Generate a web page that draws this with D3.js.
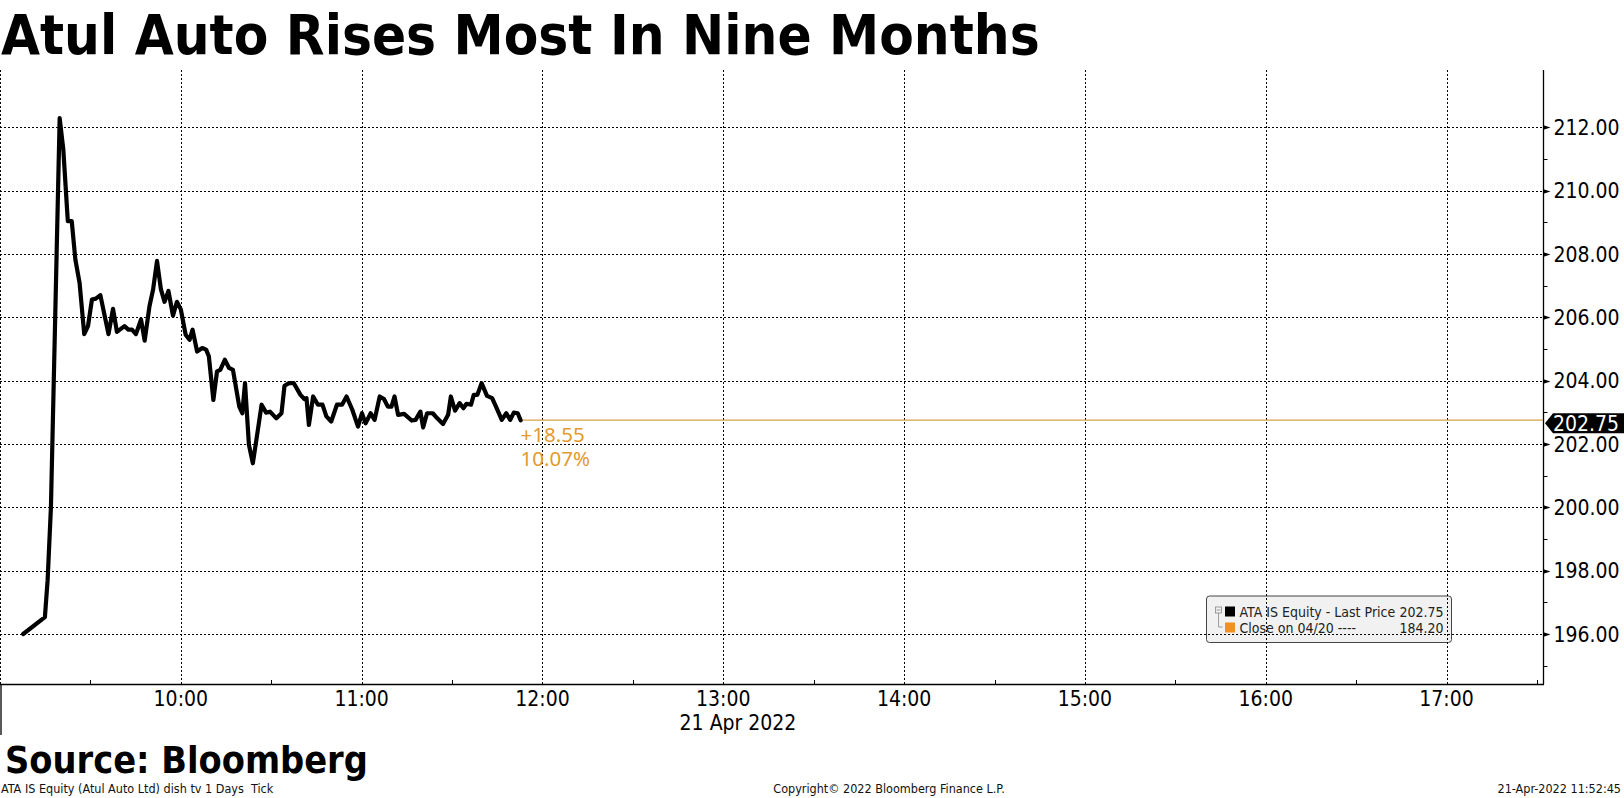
<!DOCTYPE html>
<html>
<head>
<meta charset="utf-8">
<script src="https://cdn.jsdelivr.net/npm/d3@7"></script>
<style>
  body { margin: 0; background: #fff; }
  svg { display: block; }
  .cond { font-family: "DejaVu Sans Condensed", "DejaVu Sans", sans-serif; font-stretch: condensed; }
</style>
</head>
<body>
<div id="chart"></div>
<script>
var title = "Atul Auto Rises Most In Nine Months";
var source = "Source: Bloomberg";
var footLeft = "ATA IS Equity (Atul Auto Ltd) dish tv 1 Days \u00a0Tick";
var footMid = "Copyright\u00a9 2022 Bloomberg Finance L.P.";
var footRight = "21-Apr-2022 11:52:45";
var dateLabel = "21 Apr 2022";

var times = ["09:07:42", "09:14:54", "09:15:48", "09:16:54", "09:19:48", "09:21:00", "09:22:30", "09:23:48",
  "09:25:00", "09:26:24", "09:27:57", "09:29:12", "09:30:30", "09:31:48", "09:33:18", "09:36:00",
  "09:37:30", "09:38:48", "09:41:18", "09:42:36", "09:43:48", "09:45:06", "09:46:48", "09:48:00",
  "09:49:36", "09:50:48", "09:52:06", "09:53:24", "09:54:36", "09:55:54", "09:57:24", "09:58:42",
  "10:00:00", "10:01:36", "10:02:54", "10:03:54", "10:05:24", "10:07:06", "10:08:24", "10:09:18",
  "10:10:48", "10:12:00", "10:13:06", "10:14:36", "10:16:00", "10:17:18", "10:19:24", "10:20:24",
  "10:21:18", "10:22:36", "10:23:54", "10:25:24", "10:26:48", "10:28:18", "10:29:36", "10:31:42",
  "10:33:24", "10:34:24", "10:35:54", "10:37:30", "10:39:42", "10:41:00", "10:41:42", "10:42:30",
  "10:43:54", "10:45:30", "10:47:00", "10:48:18", "10:49:54", "10:51:48", "10:53:30", "10:55:00",
  "10:56:54", "10:58:48", "11:00:06", "11:01:18", "11:03:00", "11:04:18", "11:06:00", "11:07:24",
  "11:08:42", "11:09:54", "11:10:54", "11:12:06", "11:14:06", "11:16:36", "11:17:54", "11:19:30",
  "11:20:24", "11:21:42", "11:23:36", "11:25:06", "11:27:00", "11:28:42", "11:29:36", "11:31:00",
  "11:32:30", "11:33:48", "11:34:48", "11:36:18", "11:37:12", "11:38:24", "11:39:48", "11:41:36",
  "11:43:18", "11:44:48", "11:46:30", "11:48:00", "11:49:18", "11:50:30", "11:51:48", "11:52:45"];

var prices = [196.00, 196.53, 197.70, 200.00, 212.29, 211.31, 209.04, 209.04,
  207.83, 207.09, 205.47, 205.72, 206.56, 206.59, 206.70, 205.47,
  206.27, 205.54, 205.72, 205.61, 205.61, 205.47, 205.93, 205.26,
  206.35, 206.88, 207.78, 206.88, 206.49, 206.83, 206.05, 206.49,
  206.25, 205.45, 205.29, 205.61, 204.92, 205.03, 204.98, 204.77,
  203.39, 204.29, 204.34, 204.66, 204.40, 204.34, 203.18, 202.97,
  203.92, 201.97, 201.39, 202.34, 203.24, 202.99, 203.02, 202.81,
  202.97, 203.84, 203.92, 203.92, 203.55, 203.42, 203.45, 202.60,
  203.50, 203.24, 203.24, 202.87, 202.71, 203.24, 203.24, 203.50,
  203.08, 202.55, 202.97, 202.65, 202.97, 202.76, 203.50, 203.42,
  203.18, 203.18, 203.50, 202.92, 202.95, 202.74, 202.76, 203.02,
  202.52, 202.97, 202.97, 202.81, 202.63, 202.92, 203.50, 203.05,
  203.29, 203.13, 203.27, 203.24, 203.55, 203.55, 203.92, 203.52,
  203.45, 203.13, 202.76, 202.97, 202.76, 202.99, 202.97, 202.75];

var prevClose = 184.20;
var lastPrice = 202.75;
var yTicks = [196, 198, 200, 202, 204, 206, 208, 210, 212];
var hourTicks = ["09:00", "10:00", "11:00", "12:00", "13:00", "14:00", "15:00", "16:00", "17:00"];
var legendRows = [
  { name: "ATA IS Equity - Last Price", value: "202.75", color: "#000" },
  { name: "Close on 04/20 ----", value: "184.20", color: "#f0921e" }
];

var width = 1624, height = 798;
var plotL = 0, plotR = 1543, plotT = 70, plotB = 684;
var orange = "#e39a2d";

var parseT = d3.timeParse("%Y-%m-%d %H:%M:%S");
function t(s) { return parseT("2022-04-21 " + (s.length == 5 ? s + ":00" : s)); }

var data = times.map(function(s, i) { return { time: t(s), price: prices[i] }; });

var x = d3.scaleTime()
  .domain([t("09:00"), t("17:32")])
  .range([plotL, plotR]);

var y = d3.scaleLinear()
  .domain([194.42, 213.81])
  .range([plotB, plotT]);

var svg = d3.select("#chart").append("svg")
  .attr("width", width)
  .attr("height", height);

svg.append("rect").attr("width", width).attr("height", height).attr("fill", "#fff");

// legend goes under the grid, the dotted lines show through it
var lg = svg.append("g").attr("transform", "translate(1206.5,596)");
lg.append("rect")
  .attr("width", 245).attr("height", 46.5).attr("rx", 3)
  .attr("fill", "#f1f1f1").attr("stroke", "#444").attr("stroke-width", 1);
lg.append("rect").attr("x", 9).attr("y", 11).attr("width", 6).attr("height", 6)
  .attr("fill", "none").attr("stroke", "#888").attr("stroke-width", 0.8);
lg.append("line").attr("x1", 10).attr("x2", 14).attr("y1", 14).attr("y2", 14).attr("stroke", "#888").attr("stroke-width", 0.8);
lg.append("path").attr("d", "M12,17V31H16").attr("fill", "none").attr("stroke", "#888").attr("stroke-width", 0.8);
var rows = lg.selectAll("g.row").data(legendRows).enter().append("g")
  .attr("class", "row")
  .attr("transform", function(d, i) { return "translate(0," + (i * 16) + ")"; });
rows.append("rect").attr("x", 18.5).attr("y", 10.5).attr("width", 10).attr("height", 10)
  .attr("fill", function(d) { return d.color; });
rows.append("text").attr("class", "cond")
  .attr("x", 33).attr("y", 20.5)
  .attr("font-size", 14).attr("fill", "#222")
  .text(function(d) { return d.name; });
rows.append("text").attr("class", "cond")
  .attr("x", 237).attr("y", 20.5).attr("text-anchor", "end")
  .attr("font-size", 14).attr("fill", "#222")
  .text(function(d) { return d.value; });

// grid
var grid = svg.append("g").attr("stroke", "#000").attr("stroke-width", 1).attr("stroke-dasharray", "2,2");
grid.selectAll("line.h").data(yTicks).enter().append("line")
  .attr("class", "h")
  .attr("x1", plotL).attr("x2", plotR)
  .attr("y1", function(d) { return Math.round(y(d)) + 0.5; })
  .attr("y2", function(d) { return Math.round(y(d)) + 0.5; });
grid.selectAll("line.v").data(hourTicks).enter().append("line")
  .attr("class", "v")
  .attr("x1", function(d) { return Math.round(x(t(d))) + 0.5; })
  .attr("x2", function(d) { return Math.round(x(t(d))) + 0.5; })
  .attr("y1", plotT).attr("y2", plotB);

// axes
var yAxis = svg.append("g").attr("transform", "translate(" + (plotR + 0.5) + ",0)");
yAxis.append("line").attr("y1", plotT).attr("y2", plotB + 0.5).attr("stroke", "#000").attr("stroke-width", 1.3);
yAxis.selectAll("path.tk").data(yTicks).enter().append("path")
  .attr("class", "tk")
  .attr("d", function(d) { var v = Math.round(y(d)) + 0.5; return "M0," + (v - 2.2) + "L7," + v + "L0," + (v + 2.2) + "Z"; })
  .attr("fill", "#000");
yAxis.selectAll("line.mn").data(d3.range(195, 213, 2)).enter().append("line")
  .attr("class", "mn")
  .attr("x1", 0).attr("x2", 4)
  .attr("y1", function(d) { return Math.round(y(d)) + 0.5; })
  .attr("y2", function(d) { return Math.round(y(d)) + 0.5; })
  .attr("stroke", "#000");
yAxis.selectAll("text").data(yTicks).enter().append("text")
  .attr("class", "cond")
  .attr("x", 10).attr("y", function(d) { return y(d); })
  .attr("dy", "0.36em")
  .attr("font-size", 21)
  .text(function(d) { return d3.format(".2f")(d); });

var xAxis = svg.append("g");
xAxis.append("line").attr("x1", plotL).attr("x2", plotR + 1).attr("y1", plotB + 0.5).attr("y2", plotB + 0.5)
  .attr("stroke", "#000").attr("stroke-width", 1.3);
xAxis.append("line").attr("x1", 1).attr("x2", 1).attr("y1", plotB).attr("y2", 735)
  .attr("stroke", "#000").attr("stroke-width", 1.3);
var halfHours = d3.timeMinute.every(30).range(t("09:00"), t("17:31")).filter(function(d) { return d.getMinutes() == 30; });
xAxis.selectAll("line.mn").data(halfHours).enter().append("line")
  .attr("class", "mn")
  .attr("x1", function(d) { return Math.round(x(d)) + 0.5; })
  .attr("x2", function(d) { return Math.round(x(d)) + 0.5; })
  .attr("y1", plotB).attr("y2", plotB - 4)
  .attr("stroke", "#000");
xAxis.selectAll("text.tl").data(hourTicks.slice(1)).enter().append("text")
  .attr("class", "cond tl")
  .attr("x", function(d) { return x(t(d)); })
  .attr("y", 706)
  .attr("text-anchor", "middle")
  .attr("font-size", 21)
  .text(function(d) { return d; });
xAxis.append("text").attr("class", "cond")
  .attr("x", 738).attr("y", 730).attr("text-anchor", "middle")
  .attr("font-size", 21)
  .text(dateLabel);

// last price level
var last = data[data.length - 1];
svg.append("line")
  .attr("x1", x(last.time)).attr("x2", plotR)
  .attr("y1", y(lastPrice)).attr("y2", y(lastPrice))
  .attr("stroke", "#d9a04a").attr("stroke-width", 1.2);

var line = d3.line()
  .x(function(d) { return x(d.time); })
  .y(function(d) { return y(d.price); });

svg.append("path")
  .datum(data)
  .attr("d", line)
  .attr("fill", "none")
  .attr("stroke", "#000")
  .attr("stroke-width", 4.2)
  .attr("stroke-linejoin", "round")
  .attr("stroke-linecap", "round");

var chg = lastPrice - prevClose;
var ann = svg.append("g").attr("font-family", "'Noto Sans', sans-serif").attr("font-size", 20.5).attr("fill", orange);
ann.append("text").attr("x", x(last.time)).attr("y", 442).text("+" + d3.format(".2f")(chg));
ann.append("text").attr("x", x(last.time)).attr("y", 466).text(d3.format(".2f")(chg / prevClose * 100) + "%");

// price tag on the axis
var ty = y(lastPrice) + 3;
svg.append("path")
  .attr("d", "M" + (plotR + 2) + "," + ty + "L" + (plotR + 10) + "," + (ty - 10) + "L" + width + "," + (ty - 10) +
    "L" + width + "," + (ty + 10) + "L" + (plotR + 10) + "," + (ty + 10) + "Z")
  .attr("fill", "#000");
svg.append("text").attr("class", "cond")
  .attr("x", plotR + 10).attr("y", ty).attr("dy", "0.36em")
  .attr("font-size", 21).attr("fill", "#fff")
  .text(d3.format(".2f")(lastPrice));

// titles and footer
svg.append("text").attr("class", "cond")
  .attr("x", 1).attr("y", 54)
  .attr("font-size", 56).attr("font-weight", "bold")
  .text(title);
svg.append("text").attr("class", "cond")
  .attr("x", 5).attr("y", 773)
  .attr("font-size", 37.5).attr("font-weight", "bold")
  .text(source);
var foot = svg.append("g").attr("class", "cond").attr("font-size", 12.5).attr("fill", "#111");
foot.append("text").attr("x", 1).attr("y", 793).text(footLeft);
foot.append("text").attr("x", 889).attr("y", 793).attr("text-anchor", "middle").text(footMid);
foot.append("text").attr("x", 1621).attr("y", 793).attr("text-anchor", "end").text(footRight);
</script>
</body>
</html>
